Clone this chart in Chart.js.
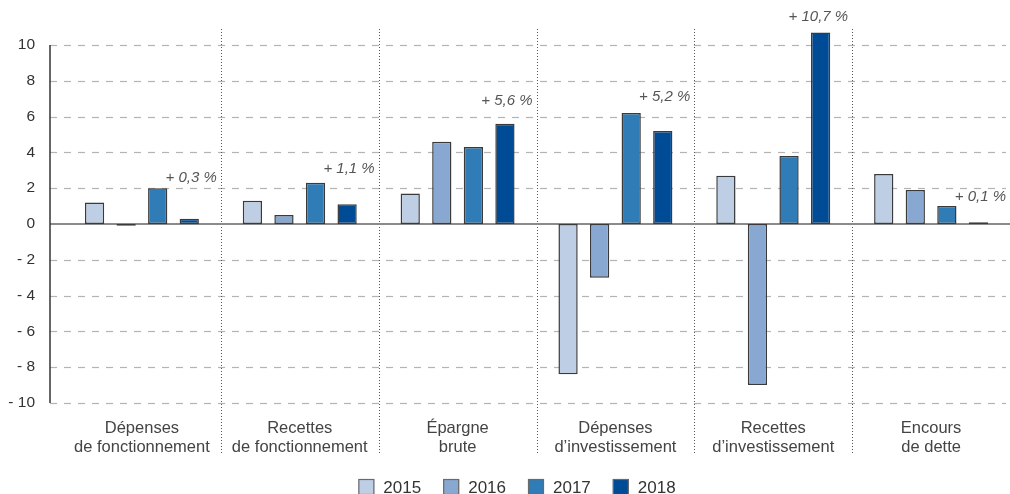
<!DOCTYPE html>
<html>
<head>
<meta charset="utf-8">
<script src="https://cdn.jsdelivr.net/npm/chart.js@4.4.0/dist/chart.umd.min.js"></script>
<style>
  html, body { margin: 0; padding: 0; background: #fff; overflow: hidden; }
  #wrap { width: 1010px; height: 494px; position: relative; }
</style>
</head>
<body>
<div id="wrap"><canvas id="chart"></canvas></div>
<script>
// categories and values (% change)
const categories = [
    ["Dépenses", "de fonctionnement"],
    ["Recettes", "de fonctionnement"],
    ["Épargne", "brute"],
    ["Dépenses", "d’investissement"],
    ["Recettes", "d’investissement"],
    ["Encours", "de dette"]
];
const years = ["2015", "2016", "2017", "2018"];
const values2015 = [1.2, 1.3, 1.7, -8.4, 2.7, 2.8];
const values2016 = [-0.1, 0.5, 4.6, -3.0, -9.0, 1.9];
const values2017 = [2.0, 2.3, 4.3, 6.2, 3.8, 1.0];
const values2018 = [0.3, 1.1, 5.6, 5.2, 10.7, 0.1];
const yearColors = ["#bdcee5", "#88a8d1", "#2f7cb6", "#004b96"];

// annotation text and the level (in axis units) it sits at
const notes = ["+ 0,3 %", "+ 1,1 %", "+ 5,6 %", "+ 5,2 %", "+ 10,7 %", "+ 0,1 %"];
const noteLevels = [2.6, 3.1, 6.9, 7.1, 11.6, 1.5];

const yTicks = [10, 8, 6, 4, 2, 0, -2, -4, -6, -8, -10];

const FONT = "'Liberation Sans', Arial, sans-serif";
const AXIS_X = 50;

// grid, axis lines, separators, notes and legend
const decorPlugin = {
    id: "decor",
    beforeDatasetsDraw(chart) {
        const { ctx, chartArea, scales } = chart;
        const y = scales.y;
        ctx.save();
        // dashed horizontal grid
        ctx.strokeStyle = "#b4b4b4";
        ctx.lineWidth = 1.2;
        ctx.setLineDash([7, 7]);
        yTicks.forEach(t => {
            if (t === 0) return;
            const py = Math.round(y.getPixelForValue(t)) + 0.5;
            ctx.beginPath();
            ctx.moveTo(AXIS_X, py);
            ctx.lineTo(chartArea.right - 4, py);
            ctx.stroke();
        });
        // dotted category separators
        ctx.strokeStyle = "#555";
        ctx.lineWidth = 1;
        ctx.setLineDash([1, 2]);
        const step = (chartArea.right - chartArea.left) / categories.length;
        for (let i = 1; i < categories.length; i++) {
            const px = Math.round(chartArea.left + step * i) + 0.5;
            ctx.beginPath();
            ctx.moveTo(px, 29);
            ctx.lineTo(px, 455);
            ctx.stroke();
        }
        // zero line
        ctx.setLineDash([]);
        ctx.strokeStyle = "#8a8a8a";
        ctx.lineWidth = 2;
        const zy = y.getPixelForValue(0);
        ctx.beginPath();
        ctx.moveTo(AXIS_X, zy);
        ctx.lineTo(chartArea.right, zy);
        ctx.stroke();
        // vertical axis line
        ctx.strokeStyle = "#333";
        ctx.lineWidth = 1.5;
        ctx.beginPath();
        ctx.moveTo(AXIS_X, y.getPixelForValue(10));
        ctx.lineTo(AXIS_X, y.getPixelForValue(-10));
        ctx.stroke();
        ctx.restore();
    },
    afterDatasetsDraw(chart) {
        const { ctx, chartArea, scales } = chart;
        const step = (chartArea.right - chartArea.left) / categories.length;
        ctx.save();
        ctx.font = "italic 15px " + FONT;
        ctx.fillStyle = "#555";
        ctx.textAlign = "right";
        ctx.textBaseline = "middle";
        notes.forEach((n, i) => {
            const px = chartArea.left + step * (i + 1) - 4;
            ctx.fillText(n, px, scales.y.getPixelForValue(noteLevels[i]));
        });

        // legend at the bottom
        ctx.font = "17px " + FONT;
        ctx.textAlign = "left";
        const box = 16, gap = 9, itemGap = 22;
        const widths = years.map(t => box + gap + ctx.measureText(t).width);
        const total = widths.reduce((a, b) => a + b, 0) + itemGap * (years.length - 1);
        let lx = (chart.width - total) / 2 + 12;
        const ly = 487;
        years.forEach((t, i) => {
            ctx.fillStyle = yearColors[i];
            ctx.fillRect(lx, ly - box / 2, box, box);
            ctx.strokeStyle = "#6a6a6a";
            ctx.lineWidth = 1.2;
            ctx.strokeRect(lx + 0.5, ly - box / 2 + 0.5, box - 1, box - 1);
            ctx.fillStyle = "#333";
            ctx.fillText(t, lx + box + gap, ly + 1);
            lx += widths[i] + itemGap;
        });
        ctx.restore();
    }
};

const seriesValues = [values2015, values2016, values2017, values2018];

new Chart(document.getElementById("chart"), {
    type: "bar",
    data: {
        labels: categories,
        datasets: years.map((yr, i) => ({
            label: yr,
            data: seriesValues[i],
            backgroundColor: yearColors[i],
            borderColor: "#3a3a3a",
            borderWidth: 1.5,
            borderSkipped: false,
            categoryPercentage: 0.8,
            barPercentage: 0.61,
            clip: false
        }))
    },
    options: {
        responsive: true,
        maintainAspectRatio: false,
        animation: false,
        layout: { padding: { top: 45, right: 0, left: 0, bottom: 0 } },
        plugins: {
            tooltip: { enabled: false },
            legend: { display: false }
        },
        scales: {
            x: {
                grid: { display: false, drawTicks: false },
                border: { display: false },
                ticks: {
                    font: { family: FONT, size: 16.5, lineHeight: 1.21 },
                    color: "#444",
                    padding: 15,
                    maxRotation: 0,
                    autoSkip: false
                },
                afterFit(scale) { scale.height = 91; }
            },
            y: {
                min: -10,
                max: 10,
                grid: { display: false, drawTicks: false },
                border: { display: false },
                afterBuildTicks(scale) {
                    scale.ticks = yTicks.map(v => ({ value: v }));
                },
                afterFit(scale) { scale.width = 63; },
                ticks: {
                    font: { family: FONT, size: 15.5 },
                    color: "#333",
                    padding: 28,
                    callback: v => (v < 0 ? "- " + Math.abs(v) : String(v))
                }
            }
        }
    },
    plugins: [decorPlugin]
});
</script>
</body>
</html>
